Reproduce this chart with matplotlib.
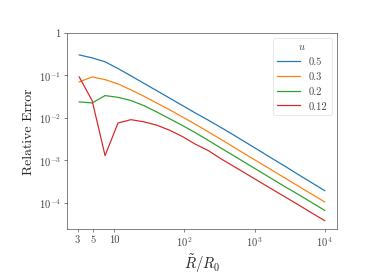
import matplotlib
matplotlib.use("Agg")
import matplotlib.pyplot as plt

plt.rcParams.update({
    "font.family": "serif",
    "font.serif": ["cmr10", "DejaVu Serif"],
    "mathtext.fontset": "cm",
    "axes.formatter.use_mathtext": True,
    "axes.unicode_minus": False,
    "text.color": "#444444",
    "axes.labelcolor": "#222222",
    "xtick.color": "#444444",
    "ytick.color": "#444444",
    "axes.edgecolor": "#444444",
})

# x = R~/R0 sample points
r_ratio = [3.162, 4.833, 7.387, 11.29, 17.25, 26.37, 40.30, 61.58, 94.12, 143.8,
           219.9, 336.0, 513.5, 784.8, 1199, 1833, 2801, 4281, 6543, 10000]

err_u05 = [0.303, 0.258, 0.209, 0.145, 0.0977, 0.0653, 0.0437, 0.0292, 0.0195, 0.0130,
           0.00881, 0.00589, 0.00389, 0.00254, 0.00166, 0.00108, 7.08e-4, 4.57e-4, 2.99e-4, 1.95e-4]
err_u03 = [0.0703, 0.092, 0.0796, 0.0631, 0.0457, 0.0324, 0.0224, 0.0155, 0.0105, 0.00708,
           0.00468, 0.00309, 0.00202, 0.00132, 8.69e-4, 5.70e-4, 3.74e-4, 2.45e-4, 1.61e-4, 1.06e-4]
err_u02 = [0.0238, 0.0225, 0.0335, 0.0305, 0.0257, 0.0195, 0.0138, 0.00955, 0.00661, 0.00447,
           0.00295, 0.00193, 0.00127, 8.32e-4, 5.45e-4, 3.57e-4, 2.34e-4, 1.56e-4, 1.02e-4, 6.70e-5]
err_u012 = [0.092, 0.0255, 0.0013, 0.0076, 0.0091, 0.0081, 0.00676, 0.00513, 0.00363, 0.0024,
            0.0017, 0.00108, 7.14e-4, 4.71e-4, 3.10e-4, 2.04e-4, 1.35e-4, 8.91e-5, 5.82e-5, 3.84e-5]

u_labels = ["0.5", "0.3", "0.2", "0.12"]
x_ticks = [3, 5, 10, 100, 1000, 10000]
x_tick_labels = ["3", "5", "10", r"$10^2$", r"$10^3$", r"$10^4$"]
y_ticks = [1, 1e-1, 1e-2, 1e-3, 1e-4]
y_tick_labels = ["1", r"$10^{-1}$", r"$10^{-2}$", r"$10^{-3}$", r"$10^{-4}$"]

fig = plt.figure(figsize=(6.4, 4.8), dpi=58.44)
ax = fig.add_axes([0.179, 0.182, 0.722, 0.699])

for ys, lab in zip([err_u05, err_u03, err_u02, err_u012], u_labels):
    ax.loglog(r_ratio, ys, lw=1.5, label=lab)

ax.set_ylim(top=1)
ax.set_xticks(x_ticks)
ax.set_xticklabels(x_tick_labels)
ax.set_yticks(y_ticks)
ax.set_yticklabels(y_tick_labels)
ax.minorticks_off()
ax.tick_params(labelsize=13, length=4, width=0.8)

ax.set_xlabel(r"$\tilde{R}/R_0$", fontsize=18)
ax.set_ylabel("Relative Error", fontsize=17)

leg = ax.legend(title=r"$u$", fontsize=13, title_fontsize=13, loc="upper right",
                handlelength=2.2)
leg.get_frame().set_edgecolor("#dddddd")

fig.savefig("out.png", dpi=58.44)
